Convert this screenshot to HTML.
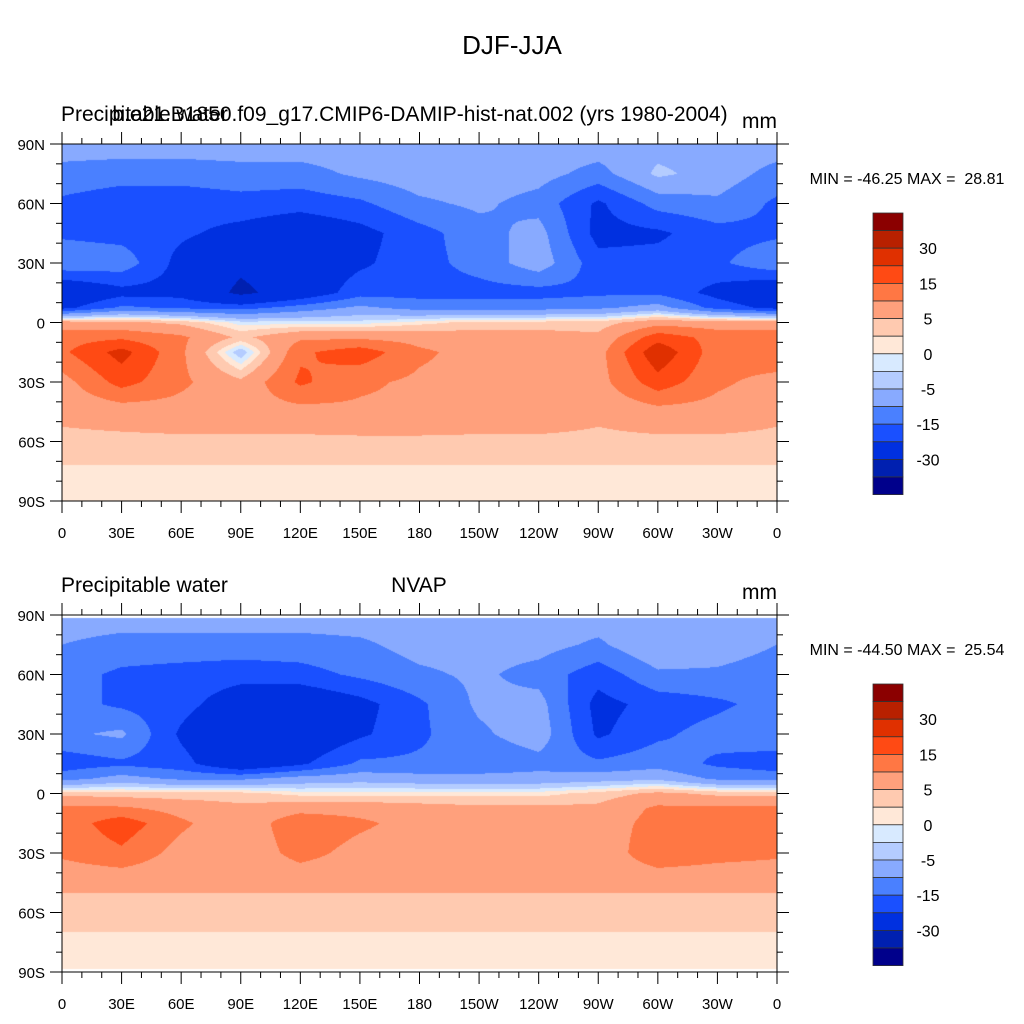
<!DOCTYPE html>
<html><head><meta charset="utf-8">
<style>
body{margin:0;background:#fff;}
#wrap{position:relative;width:1024px;height:1024px;font-family:"Liberation Sans",sans-serif;color:#000;overflow:hidden;}
.t{position:absolute;white-space:nowrap;}
</style></head>
<body>
<div id="wrap">
<div class="t" style="left:0;width:1024px;text-align:center;top:30px;font-size:26px;">DJF-JJA</div>
<svg id="svg" width="1024" height="1024" style="position:absolute;left:0;top:0"></svg>
</div>
<script>
const lats=[90,75,60,45,30,15,7.5,0,-7.5,-15,-30,-45,-60,-75,-90];
const lons=[0,30,60,90,120,150,180,210,240,270,300,330,360];
const levels=[-40,-30,-20,-15,-10,-5,-2,0,2,5,10,15,20,30,40];
const colors=["#00008b","#0020b0","#0030e0","#1a50ff","#4a80ff","#88aaff","#b4ccff","#d8eaff","#ffe8d8","#ffcab0","#ffa07c","#ff7744","#ff4a14","#e03000","#b82000","#8b0000"];
const cbLabels=["30","15","5","0","-5","-15","-30"];
const xTickLabels=["0","30E","60E","90E","120E","150E","180","150W","120W","90W","60W","30W","0"];
const yTickLabels=["90N","60N","30N","0","30S","60S","90S"];
const fill=v=>lons.map(()=>v);
const modelGrid=[
fill(-7),
[-12,-13,-13,-12,-12,-9,-7,-7,-8,-12,-4,-7,-12],
[-16,-18,-18,-17,-18,-16,-11,-9,-12,-21,-13,-11,-16],
[-16,-17,-19,-22,-25,-22,-17,-12,-8,-22,-21,-17,-16],
[-11,-12,-22,-28,-25,-21,-17,-13,-7,-18,-18,-16,-11],
[-27,-22,-22,-32,-25,-17,-17,-17,-17,-16,-16,-22,-27],
[-22,-14,-16,-17,-13,-9,-12,-12,-12,-11,-8,-17,-22],
[7,6,4,-1,-1,-1,1,3,3,3,8,7,7],
[13,14,11,4,9,9,8,7,7,6,18,13,13],
[14,22,11,-4,14,18,11,8,8,8,24,12,14],
[8,17,11,6,16,11,9,8,8,8,18,11,8],
[6,7,8,8,8,9,9,8,8,6,8,8,6],
fill(4),fill(1.5),fill(1)];
const obsGrid=[
fill(-7),
[-10,-12,-12,-12,-12,-11,-8,-8,-8,-11,-5,-7,-10],
[-13,-16,-17,-18,-17,-14,-11,-9,-12,-18,-11,-11,-13],
[-13,-16,-18,-24,-26,-22,-16,-9,-8,-22,-18,-16,-13],
[-11,-9,-21,-28,-26,-21,-16,-11,-7,-21,-16,-13,-11],
[-18,-16,-18,-26,-21,-14,-14,-14,-12,-14,-12,-16,-18],
[-12,-8,-11,-11,-8,-7,-8,-8,-8,-7,-6,-11,-12],
[4,3,3,3,1,1,1,1,1,3,6,4,4],
[11,11,8,6,8,8,7,6,6,6,11,11,11],
[12,18,11,6,14,11,8,8,7,7,12,12,12],
[11,14,8,6,12,8,7,7,7,6,14,12,11],
[6,6,6,6,6,6,6,6,6,6,6,6,6],
fill(3),fill(1.5),fill(1)];

const svg=document.getElementById('svg');
const NS='http://www.w3.org/2000/svg';
function mk(tag,attrs,parent){const e=document.createElementNS(NS,tag);for(const k in attrs)e.setAttribute(k,attrs[k]);(parent||svg).appendChild(e);return e;}
function txt(x,y,s,size,anchor,name){const e=mk('text',{x:x,y:y,'font-size':size,'text-anchor':anchor,'font-family':'Liberation Sans, sans-serif'});e.style.whiteSpace='pre';e.textContent=s;


return e;}
function colorOf(v){let i=0;while(i<levels.length&&v>=levels[i])i++;return colors[i];}
function sample(grid,lat,lon){
  let r=0;while(r<lats.length-2&&lat<lats[r+1])r++;
  const t=(lats[r]-lat)/(lats[r]-lats[r+1]);
  let c=Math.min(11,Math.floor(lon/30));const u=(lon-lons[c])/30;
  const a=grid[r][c]*(1-u)+grid[r][c+1]*u, b=grid[r+1][c]*(1-u)+grid[r+1][c+1]*u;
  return a*(1-t)+b*t;}

function panel(P){
  const L=62,R=777,T=P.top,B=P.top+357,W=R-L,H=B-T;
  const xS=lon=>L+lon/360*W, yS=lat=>T+(90-lat)/180*H;
  const g=mk('g',{});
  
  
  const fo=mk('foreignObject',{x:L,y:T,width:W,height:H},g);
  const cv=document.createElement('canvas');cv.width=W;cv.height=H;
  
  
  fo.appendChild(cv);
  const ctx=cv.getContext('2d');
  ctx.fillStyle='#fff';ctx.fillRect(0,0,W,H);
  for(let py=0;py<H;py++){const lat=90-(py+0.5)/H*180;if(Math.abs(lat)>P.maxLat)continue;
    let px=0;while(px<W){const lon=(px+0.5)/W*360;const col=colorOf(sample(P.grid,lat,lon));let n=px+1;
      while(n<W&&colorOf(sample(P.grid,lat,(n+0.5)/W*360))===col)n++;
      ctx.fillStyle=col;ctx.fillRect(px,py,n-px,1);px=n;}}
  mk('rect',{x:L,y:T,width:W,height:H,fill:'none',stroke:'#000','stroke-width':1},g);
  for(let lon=0;lon<=360;lon+=10){const x=xS(lon),len=lon%30===0?12:6;
    mk('line',{x1:x,y1:T,x2:x,y2:T-len,stroke:'#000'},g);mk('line',{x1:x,y1:B,x2:x,y2:B+len,stroke:'#000'},g);}
  for(let lat=-90;lat<=90;lat+=10){const y=yS(lat),len=lat%30===0?12:6;
    mk('line',{x1:L,y1:y,x2:L-len,y2:y,stroke:'#000'},g);mk('line',{x1:R,y1:y,x2:R+len,y2:y,stroke:'#000'},g);}
  xTickLabels.forEach((s,i)=>txt(xS(i*30),B+37,s,15,'middle','x-tick-label'));
  yTickLabels.forEach((s,i)=>txt(L-17,yS(90-i*30)+6,s,15,'end','y-tick-label'));
  txt(61,T-23,'Precipitable water',21,'start','panel-variable-title');
  txt(P.cx,T-23,P.center,21,'middle','panel-case-title');
  txt(777,T-16,'mm',21,'end','units-label');
  txt(907,T+40,P.minmax,16,'middle','min-max-label');
  const cbT=P.top+69,bh=17.6;
  for(let i=0;i<16;i++){const r=mk('rect',{x:873,y:cbT+i*bh,width:30,height:bh,fill:colors[15-i],stroke:'#333','stroke-width':0.8},g);
    
    }
  cbLabels.forEach((s,i)=>txt(928,cbT+(2+2*i)*bh+6,s,16,'middle','colorbar-label'));
}
panel({name:'model-panel',top:144,grid:modelGrid,maxLat:90,center:'b.e21.B1850.f09_g17.CMIP6-DAMIP-hist-nat.002 (yrs 1980-2004)',cx:420,minmax:'MIN = -46.25 MAX =  28.81'});
panel({name:'obs-panel',top:615,grid:obsGrid,maxLat:88.5,center:'NVAP',cx:419,minmax:'MIN = -44.50 MAX =  25.54'});
</script>
</body></html>
